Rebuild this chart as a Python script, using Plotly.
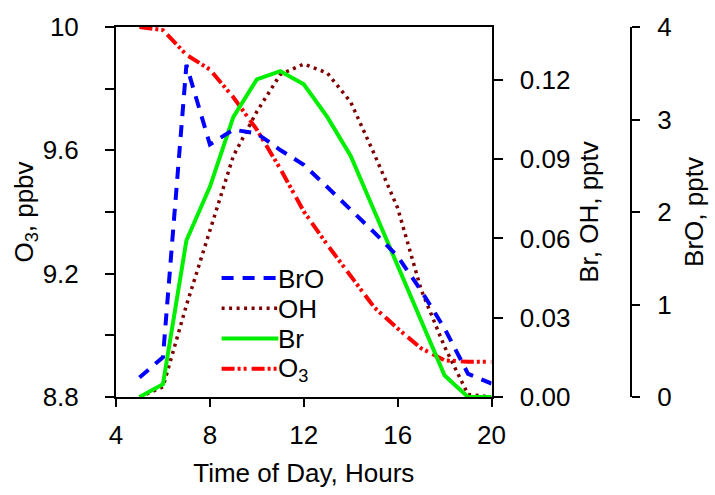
import plotly.graph_objects as go

hours = list(range(5, 21))
o3 = [10.0, 9.99, 9.91, 9.862, 9.772, 9.667, 9.54, 9.402, 9.294, 9.193, 9.091, 9.022, 8.958, 8.919, 8.914, 8.914]
bro = [0.21, 0.43, 3.59, 2.73, 2.89, 2.85, 2.67, 2.51, 2.27, 2.03, 1.78, 1.52, 1.15, 0.74, 0.25, 0.145]
br = [0.0, 0.0048, 0.0592, 0.0795, 0.106, 0.1202, 0.1233, 0.1183, 0.106, 0.0912, 0.0705, 0.0499, 0.0289, 0.0081, 0.0, 0.0]
oh = [0.0, 0.0038, 0.0347, 0.0635, 0.0912, 0.108, 0.122, 0.126, 0.1226, 0.1116, 0.092, 0.0715, 0.0406, 0.019, 0.001, 0.0]

x_ticks = [4, 8, 12, 16, 20]
o3_ticks = [8.8, 9.0, 9.2, 9.4, 9.6, 9.8, 10.0]
o3_ticktext = ["8.8", "", "9.2", "", "9.6", "", "10"]
broh_ticks = [0.0, 0.03, 0.06, 0.09, 0.12]
broh_ticktext = ["0.00", "0.03", "0.06", "0.09", "0.12"]
bro_ticks = [0, 1, 2, 3, 4]

legend_names = ["BrO", "OH", "Br", "O<sub>3</sub>"]

FONT = "Liberation Sans, Arial, sans-serif"
FS = 26

styles = {
    "BrO": dict(color="#0000ff", width=4, dash="12px,9px"),
    "OH": dict(color="#7f0000", width=3.5, dash="3px,4.5px"),
    "Br": dict(color="#00ee00", width=4),
    "O<sub>3</sub>": dict(color="#ff0000", width=4, dash="13px,3px,3px,3px,3px,5px"),
}

fig = go.Figure()
fig.add_trace(go.Scatter(x=hours, y=bro, name="BrO", yaxis="y3", mode="lines", line=styles["BrO"]))
fig.add_trace(go.Scatter(x=hours, y=oh, name="OH", yaxis="y2", mode="lines", line=styles["OH"]))
fig.add_trace(go.Scatter(x=hours, y=br, name="Br", yaxis="y2", mode="lines", line=styles["Br"]))
fig.add_trace(go.Scatter(x=hours, y=o3, name="O<sub>3</sub>", yaxis="y", mode="lines", line=styles["O<sub>3</sub>"]))

W, H = 715, 495
L, R, T, B = 116, 82, 18, 98
plot_right = 493
PW, PH = W - L - R, H - T - B
xdom = (plot_right - L) / PW


def px_x(p):
    return (p - L) / PW


def px_y(p):
    return 1 - (p - T) / PH


# hand-drawn legend (long line samples as in the reference)
shapes, annotations = [], []
row_y = [275, 306, 337, 368]
for name, ry in zip(legend_names, row_y):
    shapes.append(dict(type="line", xref="paper", yref="paper",
                       x0=px_x(222), x1=px_x(279), y0=px_y(ry), y1=px_y(ry),
                       line=styles[name], layer="above"))
    annotations.append(dict(text=name, xref="paper", yref="paper", x=px_x(277), y=px_y(ry + 1),
                            xanchor="left", yanchor="middle", showarrow=False,
                            font=dict(family=FONT, size=FS, color="black")))

axis_common = dict(showgrid=False, zeroline=False, showline=True, linecolor="black",
                   linewidth=2, ticks="outside", tickcolor="black", tickwidth=2,
                   tickfont=dict(family=FONT, size=FS, color="black"))

fig.update_layout(
    width=W, height=H,
    margin=dict(l=L, r=R, t=T, b=B),
    paper_bgcolor="white", plot_bgcolor="white",
    font=dict(family=FONT, size=FS, color="black"),
    showlegend=False,
    shapes=shapes, annotations=annotations,
    xaxis=dict(axis_common, domain=[0, xdom], range=[4, 20], tickvals=x_ticks,
               ticklen=8, mirror=True, ticklabelstandoff=6,
               title=dict(text="Time of Day, Hours", font=dict(family=FONT, size=FS), standoff=15)),
    yaxis=dict(axis_common, range=[8.8, 10.0], tickvals=o3_ticks, ticktext=o3_ticktext,
               ticklen=9, mirror=True, ticklabelstandoff=21,
               title=dict(text="O<sub>3</sub>, ppbv", font=dict(family=FONT, size=FS), standoff=2)),
    yaxis2=dict(axis_common, range=[0, 0.14], tickvals=broh_ticks, ticktext=broh_ticktext,
                ticklen=9, overlaying="y", side="right", anchor="x", ticklabelstandoff=12,
                title=dict(text="Br, OH, pptv", font=dict(family=FONT, size=FS), standoff=10)),
    yaxis3=dict(axis_common, range=[0, 4], tickvals=bro_ticks, ticklen=8,
                overlaying="y", side="right", anchor="free", position=1.0, ticklabelstandoff=12,
                title=dict(text="BrO, pptv", font=dict(family=FONT, size=FS), standoff=13)),
)

fig.write_html("out.html")
